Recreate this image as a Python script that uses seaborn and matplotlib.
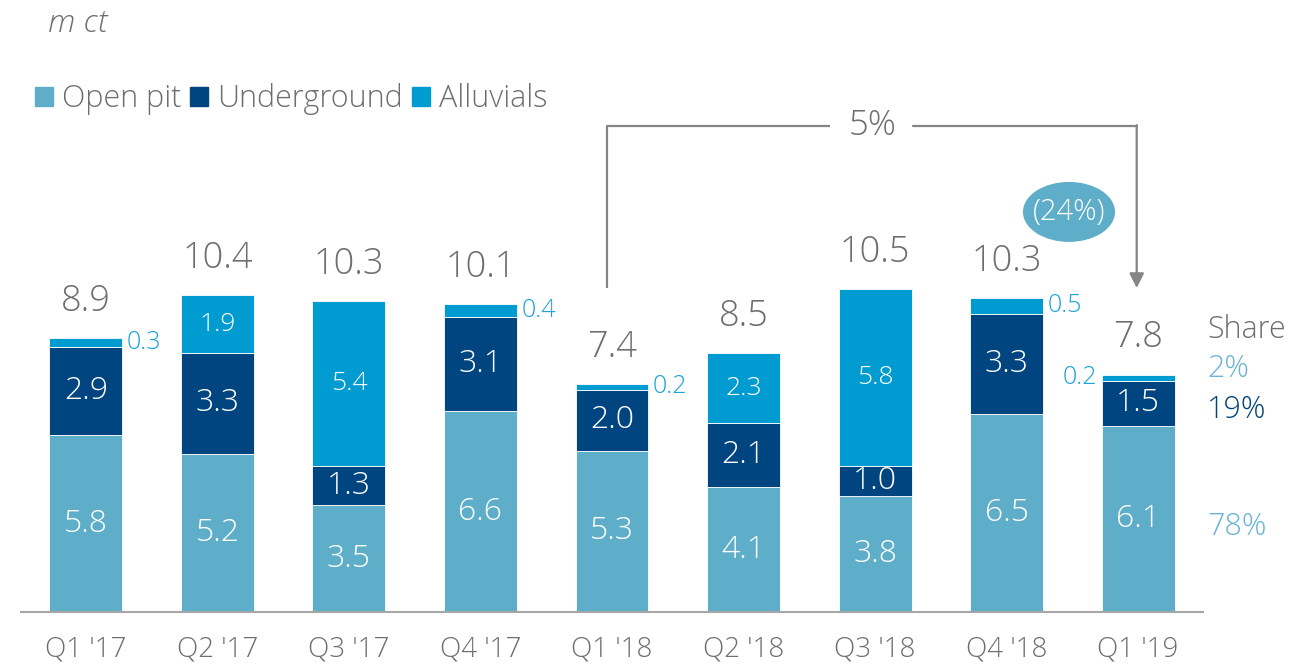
import matplotlib
matplotlib.use("Agg")
import matplotlib.pyplot as plt
from matplotlib.patches import Ellipse, Patch
import seaborn as sns


# --- Data ---
quarters = ["Q1 '17", "Q2 '17", "Q3 '17", "Q4 '17", "Q1 '18",
            "Q2 '18", "Q3 '18", "Q4 '18", "Q1 '19"]
open_pit = [5.8, 5.2, 3.5, 6.6, 5.3, 4.1, 3.8, 6.5, 6.1]
underground = [2.9, 3.3, 1.3, 3.1, 2.0, 2.1, 1.0, 3.3, 1.5]
alluvials = [0.3, 1.9, 5.4, 0.4, 0.2, 2.3, 5.8, 0.5, 0.2]
totals = ["8.9", "10.4", "10.3", "10.1", "7.4", "8.5", "10.5", "10.3", "7.8"]
share_labels = ["2%", "19%", "78%"]
growth_label = "5%"
drop_label = "(24%)"


# --- Styling ---
c_open = "#5EAEC9"
c_under = "#00457F"
c_alluv = "#009BD1"
c_small = "#1AA3D8"
c_share = "#6AB4D6"
c_text = "#6E6E6E"
c_line = "#858585"

sns.set_theme(style="white")
plt.rcParams["font.family"] = ["Open Sans", "DejaVu Sans"]
plt.rcParams["font.weight"] = "light"

fig = plt.figure(figsize=(12.96, 6.67), dpi=100)
ax = fig.add_axes([21 / 1296, 55 / 667, 1182 / 1296, 612 / 667])

bar_w = 0.555
bottom_under = [o for o in open_pit]
bottom_alluv = [o + u for o, u in zip(open_pit, underground)]

# --- Stacked bars ---
sns.barplot(x=quarters, y=open_pit, color=c_open, width=bar_w,
            edgecolor="white", linewidth=0.6, saturation=1, ax=ax)
sns.barplot(x=quarters, y=underground, bottom=bottom_under, color=c_under,
            width=bar_w, edgecolor="white", linewidth=0.6, saturation=1, ax=ax)
sns.barplot(x=quarters, y=alluvials, bottom=bottom_alluv, color=c_alluv,
            width=bar_w, edgecolor="white", linewidth=0.6, saturation=1, ax=ax)

ax.set_xlim(-0.494, 8.494)
ax.set_ylim(0, 20.1)

# --- Labels on bars ---
for i in range(len(quarters)):
    ax.text(i, open_pit[i] / 2, f"{open_pit[i]:.1f}", ha="center", va="center",
            color="white", fontsize=23)
    ax.text(i, open_pit[i] + underground[i] / 2, f"{underground[i]:.1f}",
            ha="center", va="center", color="white", fontsize=23)
    top = open_pit[i] + underground[i] + alluvials[i]
    if alluvials[i] >= 1:
        ax.text(i, bottom_alluv[i] + alluvials[i] / 2, f"{alluvials[i]:.1f}",
                ha="center", va="center", color="white", fontsize=19)
    elif i == len(quarters) - 1:
        ax.annotate(f"{alluvials[i]:.1f}", (i - bar_w / 2, top - alluvials[i] / 2),
                    xytext=(-3, 0), textcoords="offset points",
                    ha="right", va="center", color=c_small, fontsize=18)
    else:
        ax.annotate(f"{alluvials[i]:.1f}", (i + bar_w / 2, top - alluvials[i] / 2),
                    xytext=(3, 0), textcoords="offset points",
                    ha="left", va="center", color=c_small, fontsize=18)
    ax.annotate(totals[i], (i, top), xytext=(0, 13), textcoords="offset points",
                ha="center", va="bottom", color=c_text, fontsize=26)

# --- Growth bracket and arrow ---
x_a, x_b = 3.96, 7.99
y_low, y_top = 10.64, 15.96
ax.plot([x_a, x_a, 5.66], [y_low, y_top, y_top], color=c_line, lw=1.6,
        solid_capstyle="butt")
ax.plot([6.29, x_b], [y_top, y_top], color=c_line, lw=1.6)
ax.annotate("", xy=(x_b, y_low), xytext=(x_b, y_top + 0.03),
            arrowprops=dict(arrowstyle="-|>", color=c_line, lw=1.6,
                            mutation_scale=22, shrinkA=0, shrinkB=0))
ax.text(5.98, y_top, growth_label, ha="center", va="center",
        color=c_text, fontsize=25)

ax.add_patch(Ellipse((7.475, 13.14), 0.70, 1.97, color=c_open, lw=0))
ax.text(7.475, 13.14, drop_label, ha="center", va="center",
        color="white", fontsize=21)

# --- Axes configuration ---
for side in ["left", "right", "top"]:
    ax.spines[side].set_visible(False)
ax.spines["bottom"].set_color("#A6A6A6")
ax.spines["bottom"].set_linewidth(1.5)
ax.set_yticks([])
ax.tick_params(axis="x", length=0, pad=17, labelsize=20, labelcolor=c_text)
ax.set_xlabel("")

# --- Unit, legend, share column ---
fig.text(48 / 1296, 1 - 23 / 667, "m ct", style="italic", color=c_text,
         fontsize=23, va="center", ha="left")

handles = [Patch(color=c_open, label="Open pit"),
           Patch(color=c_under, label="Underground"),
           Patch(color=c_alluv, label="Alluvials")]
fig.legend(handles=handles, loc="center left",
           bbox_to_anchor=(35 / 1296, 1 - 99 / 667), ncol=3, frameon=False,
           fontsize=22, handlelength=0.58, handleheight=0.58,
           handletextpad=0.3, columnspacing=0.3, labelcolor=c_text,
           borderaxespad=0, borderpad=0)

fig.text(1207 / 1296, 1 - 330 / 667, "Share", color=c_text, fontsize=22,
         ha="left", va="center")
fig.text(1207 / 1296, 1 - 369 / 667, share_labels[0], color=c_share,
         fontsize=22, ha="left", va="center")
fig.text(1207 / 1296, 1 - 410 / 667, share_labels[1], color=c_under,
         fontsize=22, ha="left", va="center")
fig.text(1207 / 1296, 1 - 527 / 667, share_labels[2], color=c_share,
         fontsize=22, ha="left", va="center")

fig.savefig("out.png", dpi=100)
